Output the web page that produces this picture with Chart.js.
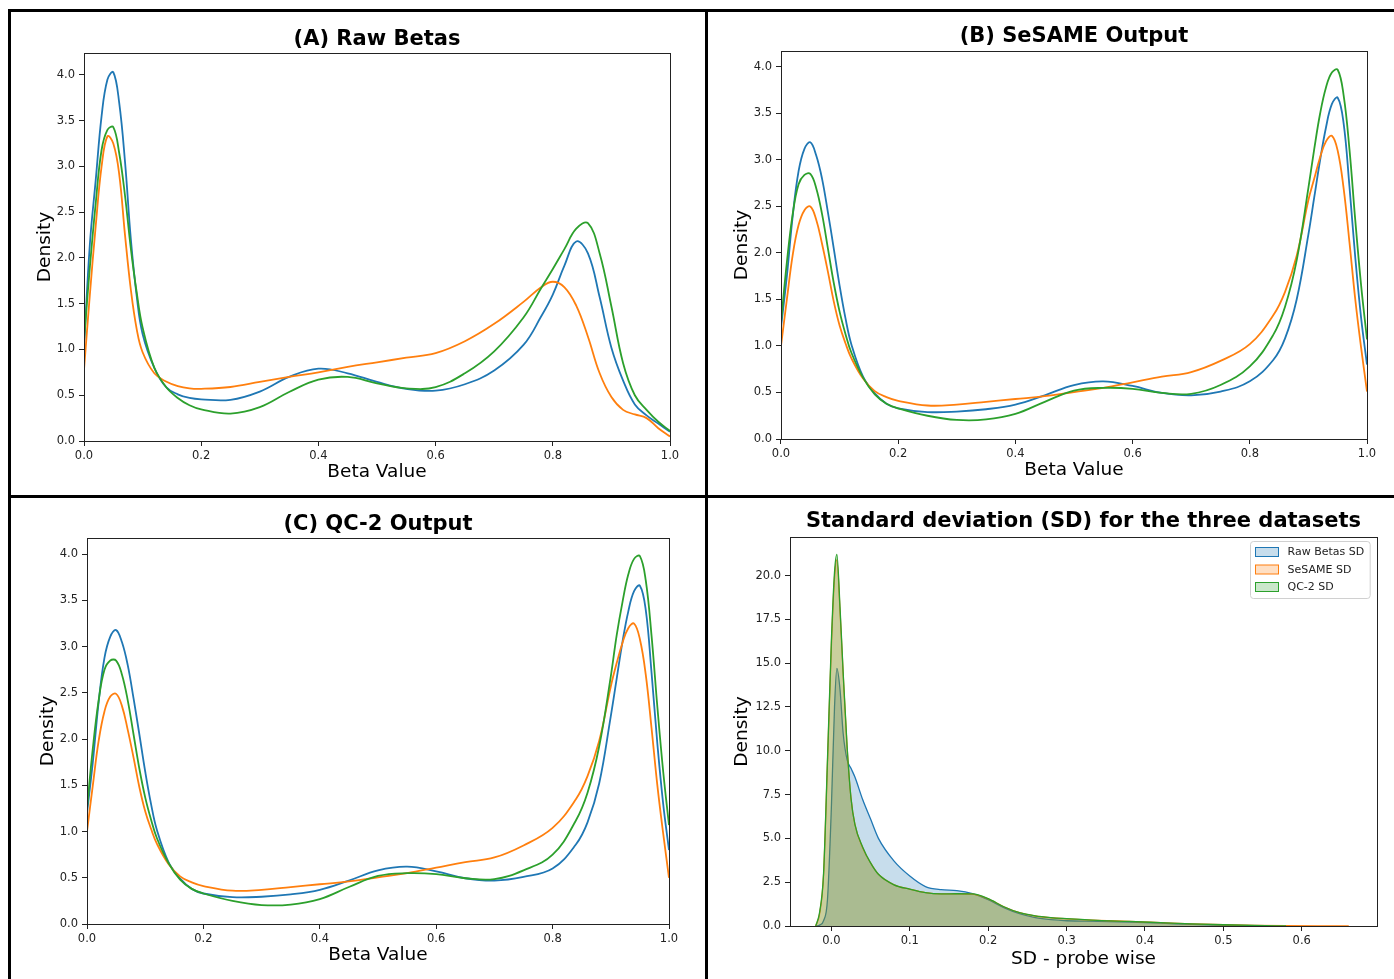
<!DOCTYPE html>
<html>
<head>
<meta charset="utf-8">
<title>Density plots</title>
<script src="https://cdn.jsdelivr.net/npm/chart.js@4.4.1/dist/chart.umd.min.js"></script>
<style>
    body { margin: 0; background: #fff; }
    #page { position: relative; width: 1394px; height: 979px; overflow: hidden; background: #fff; }
    #page canvas { position: absolute; }
    .bar { position: absolute; background: #000; }
</style>
</head>
<body>
<div id="page">
    <canvas id="chartA" width="694" height="483" style="left:11px;top:12px"></canvas>
    <canvas id="chartB" width="686" height="483" style="left:708px;top:12px"></canvas>
    <canvas id="chartC" width="694" height="481" style="left:11px;top:498px"></canvas>
    <canvas id="chartD" width="686" height="481" style="left:708px;top:498px"></canvas>

    <div class="bar" style="left:8px;top:9px;width:1386px;height:3px"></div>
    <div class="bar" style="left:8px;top:9px;width:3px;height:970px"></div>
    <div class="bar" style="left:705px;top:9px;width:3px;height:970px"></div>
    <div class="bar" style="left:8px;top:495px;width:1386px;height:3px"></div>
</div>

<script>
// ---- (A) Raw Betas ----
const betaA = [0, .01, .02, .03, .04, .05, .06, .07, .08, .09, .10, .12, .14, .16, .18, .20,
    .25, .30, .35, .40, .45, .50, .55, .60, .65, .70, .75, .78, .80, .82, .84, .86, .88, .90, .92, .94, .96, .98, 1.0];
const blueA = [1.02, 2.15, 2.85, 3.55, 3.95, 4.03, 3.70, 3.05, 2.20, 1.58, 1.17, 0.80, 0.59, 0.51, 0.47, 0.455,
    0.45, 0.54, 0.70, 0.79, 0.74, 0.645, 0.57, 0.55, 0.62, 0.77, 1.05, 1.36, 1.60, 1.92, 2.18, 2.05, 1.57, 1.02, 0.66, 0.40, 0.28, 0.19, 0.10];
const orangeA = [0.78, 1.60, 2.35, 3.00, 3.33, 3.25, 2.92, 2.25, 1.65, 1.22, 0.97, 0.74, 0.65, 0.60, 0.575, 0.57,
    0.59, 0.645, 0.70, 0.75, 0.81, 0.86, 0.91, 0.96, 1.09, 1.28, 1.52, 1.68, 1.74, 1.68, 1.48, 1.14, 0.74, 0.48, 0.34, 0.29, 0.25, 0.14, 0.05];
const greenA = [1.10, 1.90, 2.60, 3.18, 3.40, 3.43, 3.15, 2.68, 2.10, 1.62, 1.24, 0.80, 0.59, 0.47, 0.39, 0.345,
    0.30, 0.37, 0.535, 0.67, 0.70, 0.63, 0.575, 0.59, 0.74, 0.98, 1.35, 1.67, 1.88, 2.10, 2.32, 2.38, 2.05, 1.47, 0.85, 0.50, 0.34, 0.21, 0.11];

// ---- (B) SeSAME Output ----
const betaB = [0, .01, .02, .03, .04, .05, .06, .07, .08, .09, .10, .11, .12, .14, .16, .18, .20,
    .25, .30, .35, .40, .45, .50, .55, .60, .65, .70, .75, .80, .84, .86, .88, .90,
    .91, .92, .93, .94, .95, .96, .97, .98, .99, 1.0];
const blueB = [1.20, 1.75, 2.40, 2.88, 3.12, 3.19, 3.05, 2.80, 2.44, 2.05, 1.65, 1.30, 1.02, 0.67, 0.49, 0.38, 0.33,
    0.29, 0.295, 0.32, 0.37, 0.47, 0.58, 0.62, 0.57, 0.495, 0.47, 0.51, 0.62, 0.85, 1.08, 1.50, 2.20,
    2.60, 3.00, 3.35, 3.60, 3.67, 3.40, 2.72, 1.95, 1.30, 0.80];
const orangeB = [1.00, 1.50, 1.98, 2.30, 2.46, 2.50, 2.36, 2.10, 1.80, 1.48, 1.22, 1.03, 0.87, 0.65, 0.515, 0.45, 0.41,
    0.36, 0.37, 0.40, 0.43, 0.46, 0.505, 0.55, 0.61, 0.67, 0.72, 0.84, 1.02, 1.33, 1.58, 1.97, 2.57,
    2.80, 3.03, 3.20, 3.26, 3.10, 2.70, 2.12, 1.50, 0.98, 0.51];
const greenB = [1.25, 1.90, 2.42, 2.74, 2.84, 2.85, 2.70, 2.42, 2.05, 1.68, 1.37, 1.13, 0.93, 0.66, 0.48, 0.38, 0.33,
    0.25, 0.205, 0.21, 0.27, 0.40, 0.52, 0.55, 0.54, 0.495, 0.485, 0.58, 0.78, 1.12, 1.42, 1.92, 2.70,
    3.12, 3.50, 3.78, 3.94, 3.97, 3.70, 3.12, 2.35, 1.65, 1.07];

// ---- (C) QC-2 Output ----
const betaC = [0, .01, .02, .03, .04, .05, .06, .07, .08, .09, .10, .11, .12, .14, .16, .18, .20,
    .25, .30, .35, .40, .45, .50, .55, .60, .65, .70, .75, .80, .84, .86, .88, .90,
    .91, .92, .93, .94, .95, .96, .97, .98, .99, 1.0];
const blueC = [1.20, 1.75, 2.40, 2.88, 3.11, 3.18, 3.05, 2.80, 2.44, 2.05, 1.65, 1.30, 1.02, 0.67, 0.49, 0.38, 0.33,
    0.29, 0.295, 0.32, 0.37, 0.47, 0.58, 0.62, 0.57, 0.495, 0.47, 0.51, 0.60, 0.86, 1.10, 1.52, 2.25,
    2.65, 3.05, 3.38, 3.60, 3.66, 3.40, 2.72, 1.95, 1.30, 0.80];
const orangeC = [1.00, 1.50, 1.98, 2.30, 2.46, 2.49, 2.36, 2.10, 1.80, 1.48, 1.22, 1.03, 0.87, 0.65, 0.515, 0.45, 0.41,
    0.36, 0.37, 0.40, 0.43, 0.46, 0.505, 0.55, 0.61, 0.67, 0.72, 0.85, 1.04, 1.35, 1.60, 1.98, 2.57,
    2.82, 3.04, 3.20, 3.25, 3.08, 2.70, 2.12, 1.50, 0.98, 0.50];
const greenC = [1.25, 1.90, 2.42, 2.75, 2.85, 2.85, 2.70, 2.42, 2.05, 1.68, 1.37, 1.13, 0.93, 0.66, 0.48, 0.38, 0.33,
    0.25, 0.205, 0.21, 0.27, 0.40, 0.52, 0.55, 0.54, 0.495, 0.485, 0.58, 0.75, 1.12, 1.42, 1.92, 2.68,
    3.12, 3.48, 3.78, 3.95, 3.98, 3.72, 3.12, 2.35, 1.65, 1.07];

// ---- (D) SD probe wise ----
const sdGrid = [-0.02, -0.015, -0.01, -0.005, 0, 0.004, 0.007, 0.011, 0.015, 0.02, 0.025, 0.03, 0.04, 0.05, 0.06,
    0.08, 0.10, 0.12, 0.14, 0.16, 0.18, 0.20, 0.22, 0.24, 0.26, 0.28, 0.30, 0.34, 0.38, 0.42, 0.46, 0.50, 0.54, 0.58, 0.62, 0.66];
const rawSD = [0, 0.05, 0.3, 1.5, 6.8, 12.5, 14.7, 13.5, 11.0, 9.5, 9.0, 8.5, 7.2, 6.1, 5.0,
    3.7, 2.85, 2.25, 2.07, 2.02, 1.85, 1.5, 1.05, 0.7, 0.48, 0.36, 0.30, 0.27, 0.22, 0.16, 0.09, 0.04, 0.015, 0];
const sesameSD = [0, 0.7, 2.9, 9.3, 16.0, 19.9, 20.9, 18.0, 14.4, 10.2, 7.3, 5.8, 4.45, 3.6, 2.95,
    2.35, 2.1, 1.9, 1.83, 1.84, 1.82, 1.55, 1.1, 0.76, 0.57, 0.47, 0.41, 0.32, 0.26, 0.19, 0.12, 0.07, 0.04, 0.02, 0.01, 0.005];
const qc2SD = [0, 0.8, 3.0, 9.5, 16.3, 20.2, 21.2, 18.2, 14.5, 10.3, 7.3, 5.8, 4.5, 3.6, 2.95,
    2.35, 2.1, 1.9, 1.83, 1.84, 1.83, 1.56, 1.1, 0.76, 0.58, 0.48, 0.42, 0.32, 0.26, 0.19, 0.12, 0.07, 0.03, 0.005];
const sdLabels = ['Raw Betas SD', 'SeSAME SD', 'QC-2 SD'];

const BLUE = '#1f77b4', ORANGE = '#ff7f0e', GREEN = '#2ca02c';
const FILLS = { [BLUE]: 'rgba(31,119,180,0.25)', [ORANGE]: 'rgba(255,127,14,0.25)', [GREEN]: 'rgba(44,160,44,0.25)' };
const TITLE_SIZE = 21, LABEL_SIZE = 18.5;
const TITLE_LH = TITLE_SIZE * 1.2, LABEL_LH = LABEL_SIZE * 1.2;

Chart.defaults.font.family = "'DejaVu Sans', sans-serif";
Chart.defaults.color = '#222';

function curva(xs, ys, color, order, extra) {
    return Object.assign({
        data: ys.map((y, i) => ({ x: xs[i], y: y })),
        borderColor: color,
        borderWidth: 1.8,
        pointRadius: 0,
        tension: 0.4,
        fill: false,
        order: order
    }, extra || {});
}

// caja de ejes (los cuatro lados, como matplotlib)
const marco = {
    id: 'marco',
    afterDraw(chart) {
        const a = chart.chartArea, ctx = chart.ctx;
        ctx.save();
        ctx.strokeStyle = '#222';
        ctx.lineWidth = 1;
        ctx.strokeRect(Math.round(a.left) + 0.5, Math.round(a.top) + 0.5,
            Math.round(a.right - a.left), Math.round(a.bottom - a.top));
        ctx.restore();
    }
};

// leyenda arriba a la derecha dentro del área
const leyendaSD = {
    id: 'leyendaSD',
    afterDraw(chart) {
        const a = chart.chartArea, ctx = chart.ctx;
        const ds = chart.data.datasets;
        ctx.save();
        ctx.font = "11px 'DejaVu Sans', sans-serif";
        const textW = Math.max(...ds.map(d => ctx.measureText(d.label).width));
        const w = 5 + 23 + 9 + textW + 6, h = 57;
        const x0 = Math.round(a.right - 7 - w) + 0.5, y0 = Math.round(a.top + 4) + 0.5;
        ctx.fillStyle = 'rgba(255,255,255,0.8)';
        ctx.strokeStyle = '#d0d0d0';
        ctx.lineWidth = 1;
        ctx.beginPath();
        if (ctx.roundRect) ctx.roundRect(x0, y0, w, h, 3); else ctx.rect(x0, y0, w, h);
        ctx.fill();
        ctx.stroke();
        ds.forEach((d, i) => {
            const cy = y0 + 10.5 + i * 17.5;
            ctx.fillStyle = d.backgroundColor;
            ctx.fillRect(x0 + 5, cy - 4.5, 23, 9);
            ctx.strokeStyle = d.borderColor;
            ctx.strokeRect(x0 + 5, cy - 4.5, 23, 9);
            ctx.fillStyle = '#222';
            ctx.textBaseline = 'middle';
            ctx.textAlign = 'left';
            ctx.fillText(d.label, x0 + 37, cy + 0.5);
        });
        ctx.restore();
    }
};

function crearPanel(id, caja, area, pos, textos, rango, datasets, extra) {
    const yW = area.left - pos.ylab + LABEL_LH / 2;
    const xH = pos.xlab - area.bottom + LABEL_LH / 2;
    const padding = {
        top: pos.titulo - TITLE_LH / 2 - caja.top,
        left: area.left - yW - caja.left,
        right: caja.left + caja.width - area.right,
        bottom: caja.top + caja.height - area.bottom - xH
    };
    const ejeBase = {
        type: 'linear',
        border: { display: false },
        grid: { drawOnChartArea: false, drawTicks: true, tickLength: 5, color: '#222' }
    };
    return new Chart(document.getElementById(id), {
        type: 'line',
        data: { datasets: datasets },
        options: {
            responsive: false,
            animation: false,
            devicePixelRatio: 1,
            layout: { padding: padding },
            plugins: {
                legend: { display: false },
                tooltip: { enabled: false },
                title: {
                    display: true,
                    text: textos.titulo,
                    fullSize: false,
                    color: '#000',
                    font: { size: TITLE_SIZE, weight: 'bold' },
                    padding: { top: 0, bottom: area.top - (pos.titulo + TITLE_LH / 2) }
                }
            },
            scales: {
                x: Object.assign({}, ejeBase, {
                    min: rango.xmin, max: rango.xmax,
                    afterFit: s => { s.height = xH; },
                    ticks: { stepSize: rango.xstep, includeBounds: false, autoSkip: false, maxRotation: 0,
                        padding: 3, font: { size: 11.5 }, callback: v => v.toFixed(1) },
                    title: { display: true, text: textos.x, color: '#000', font: { size: LABEL_SIZE }, padding: 0 }
                }),
                y: Object.assign({}, ejeBase, {
                    min: 0, max: rango.ymax,
                    afterFit: s => { s.width = yW; },
                    ticks: { stepSize: rango.ystep, includeBounds: false, autoSkip: false,
                        padding: 4, font: { size: 11.5 }, callback: v => v.toFixed(1) },
                    title: { display: true, text: 'Density', color: '#000', font: { size: LABEL_SIZE }, padding: 0 }
                })
            }
        },
        plugins: [marco].concat(extra || [])
    });
}

function tresCurvas(xs, b, o, g) {
    return [curva(xs, b, BLUE, 3), curva(xs, o, ORANGE, 2), curva(xs, g, GREEN, 1)];
}

crearPanel('chartA',
    { left: 11, top: 12, width: 694, height: 483 },
    { left: 84, right: 670, top: 53, bottom: 441 },
    { titulo: 39.5, xlab: 472.5, ylab: 45 },
    { titulo: '(A) Raw Betas', x: 'Beta Value' },
    { xmin: 0, xmax: 1, xstep: 0.2, ymax: 4.24, ystep: 0.5 },
    tresCurvas(betaA, blueA, orangeA, greenA));

crearPanel('chartB',
    { left: 708, top: 12, width: 686, height: 483 },
    { left: 781, right: 1367, top: 51, bottom: 439 },
    { titulo: 37, xlab: 470, ylab: 742 },
    { titulo: '(B) SeSAME Output', x: 'Beta Value' },
    { xmin: 0, xmax: 1, xstep: 0.2, ymax: 4.172, ystep: 0.5 },
    tresCurvas(betaB, blueB, orangeB, greenB));

crearPanel('chartC',
    { left: 11, top: 498, width: 694, height: 481 },
    { left: 87, right: 669, top: 538, bottom: 924 },
    { titulo: 524.5, xlab: 955.5, ylab: 48 },
    { titulo: '(C) QC-2 Output', x: 'Beta Value' },
    { xmin: 0, xmax: 1, xstep: 0.2, ymax: 4.176, ystep: 0.5 },
    tresCurvas(betaC, blueC, orangeC, greenC));

const sdColors = [BLUE, ORANGE, GREEN];
const sdSeries = [rawSD, sesameSD, qc2SD];
crearPanel('chartD',
    { left: 708, top: 498, width: 686, height: 481 },
    { left: 790, right: 1377, top: 537, bottom: 926 },
    { titulo: 522, xlab: 959, ylab: 742 },
    { titulo: 'Standard deviation (SD) for the three datasets', x: 'SD - probe wise' },
    { xmin: -0.0528, xmax: 0.696, xstep: 0.1, ymax: 22.2, ystep: 2.5 },
    sdSeries.map((ys, i) => curva(sdGrid, ys, sdColors[i], 3 - i, {
        label: sdLabels[i],
        fill: 'origin',
        backgroundColor: FILLS[sdColors[i]],
        borderWidth: 1.3,
        tension: 0,
        cubicInterpolationMode: 'monotone'
    })),
    [leyendaSD]);
</script>
</body>
</html>
